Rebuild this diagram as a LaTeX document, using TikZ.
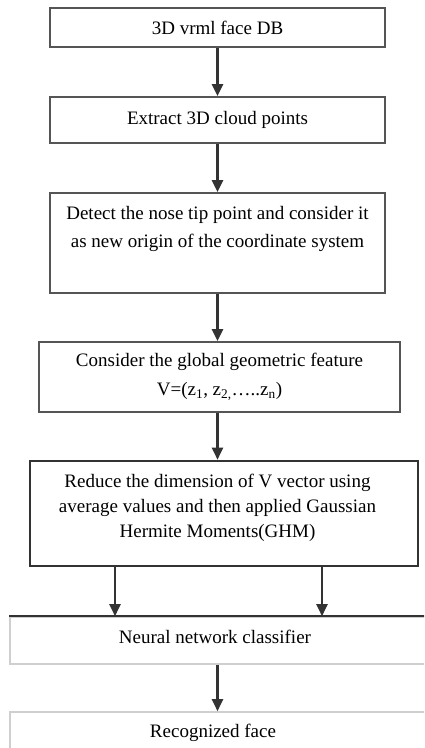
\documentclass[tikz,border=0pt]{standalone}
\usepackage{fontspec}
\setmainfont{Liberation Serif}
\usetikzlibrary{arrows.meta}
\definecolor{boxline}{HTML}{555555}
\definecolor{darkline}{HTML}{333333}
\definecolor{lightline}{HTML}{CFCFCF}
\tikzset{
  flowbox/.style={draw=boxline, line width=1.8pt, rectangle, inner sep=0pt, align=center,
    font=\fontsize{19}{28}\selectfont},
  thickbox/.style={flowbox, draw=darkline, line width=2.6pt},
  lightbox/.style={flowbox, draw=lightline, line width=1.6pt},
  txt/.style={inner sep=0pt, align=center, font=\fontsize{19}{25}\selectfont},
  flowarrow/.style={draw=darkline, line width=2.2pt, -{Triangle[width=11pt,length=12pt]}}
}
\begin{document}
\begin{tikzpicture}[x=1pt,y=-1pt]
\clip (0,0) rectangle (424,748);
\fill[white] (0,0) rectangle (424,748);
% boxes
\node[flowbox, minimum width=335pt, minimum height=39pt] (b1) at (217.5,27.5) {3D vrml face DB};
\node[flowbox, minimum width=335pt, minimum height=46pt] (b2) at (217.5,120) {Extract 3D cloud points};
\node[flowbox, minimum width=335pt, minimum height=100pt] (b3) at (217.5,243) {};
\node[txt, font=\fontsize{19}{28}\selectfont] (t3) at (217.5,229) {Detect the nose tip point and consider it\\as new origin of the coordinate system};
\node[flowbox, minimum width=361pt, minimum height=70pt, font=\fontsize{19}{29}\selectfont] (b4) at (219.5,377) {Consider the global geometric feature\\V=(z\textsubscript{1}, z\textsubscript{2,}\dots..z\textsubscript{n})};
\node[thickbox, minimum width=388pt, minimum height=105pt] (b5) at (224,513.5) {};
\node[txt] (t5) at (217.5,507.5) {Reduce the dimension of V vector using\\average values and then applied Gaussian\\Hermite Moments(GHM)};
\node[lightbox, minimum width=420pt, minimum height=47pt] (b6) at (220,640.5) {};
\node[txt] (t6) at (215,637) {Neural network classifier};
\draw[darkline, line width=2.4pt] (b6.north west) -- (b6.north east);
\node[lightbox, minimum width=420pt, minimum height=50pt] (b7) at (220,737) {};
\node[txt] (t7) at (213,733) {Recognized face};
% connectors
\draw[flowarrow] (b1.south) -- (b2.north);
\draw[flowarrow] (b2.south) -- (b3.north);
\draw[flowarrow] (b3.south) -- (b4.north -| b3.south);
\draw[flowarrow] (b4.south -| b3.south) -- (b5.north -| b3.south);
\coordinate (l5) at (115,566);
\coordinate (r5) at (322,566);
\draw[flowarrow] (l5) -- (l5 |- b6.north);
\draw[flowarrow] (r5) -- (r5 |- b6.north);
\draw[flowarrow] (b6.south -| b3.south) -- (b7.north -| b3.south);
\end{tikzpicture}
\end{document}
